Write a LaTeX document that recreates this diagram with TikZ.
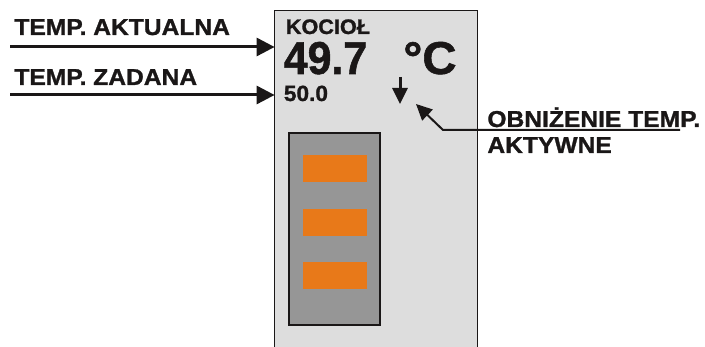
\documentclass[tikz,border=0pt]{standalone}
\usepackage{fontspec}
\setmainfont{Liberation Sans}
\newfontfamily\labfont[FakeStretch=1.07, FakeBold=1.2]{Liberation Sans Bold}
\newfontfamily\dispfont[FakeStretch=1.03, FakeBold=1.2]{Liberation Sans Bold}
\newfontfamily\numfont[FakeStretch=0.93, FakeBold=1.2]{Liberation Sans Bold}
\usetikzlibrary{arrows.meta}
\definecolor{panelgray}{RGB}{221,221,221}
\definecolor{screengray}{RGB}{150,150,150}
\definecolor{barorange}{RGB}{232,121,25}
\definecolor{ink}{RGB}{26,23,23}
\begin{document}
\begin{tikzpicture}[x=1pt, y=-1pt, thick,
    lab/.style = {anchor=base west, inner sep=0pt, text=ink, font=\labfont\fontsize{23}{23}\selectfont},
    panel/.style = {fill=panelgray, minimum width=202pt, minimum height=340pt, inner sep=0pt},
    screen/.style = {draw=ink, line width=2pt, fill=screengray, minimum width=91pt, minimum height=192pt, inner sep=0pt},
    bar/.style = {fill=barorange, minimum width=64pt, minimum height=27pt, inner sep=0pt},
    inarrow/.style = {draw=ink, line width=3pt, -{Triangle[length=18pt, width=18pt]}},
    thinarrow/.style = {draw=ink, line width=2pt, -{Triangle[length=16pt, width=15pt]}}]
    \useasboundingbox (0,0) rectangle (705,347);
    \node[panel] (panel) at (376,181) {};
    \draw[ink, line width=1.5pt] (panel.south west) -- (panel.north west) -- (panel.north east) -- (panel.south east);
    \node[screen] (screen) at (334.5,229) {};
    \foreach \i/\y in {1/168.5, 2/222.5, 3/275.5}
        \node[bar] (bar\i) at (335,\y) {};
    \node[lab] (akt) at (14,35) {TEMP. AKTUALNA};
    \node[lab] (zad) at (14,85) {TEMP. ZADANA};
    \node[lab, font=\dispfont\fontsize{21}{21}\selectfont] (kociol) at (285.5,34) {KOCIOŁ};
    \node[lab, font=\numfont\fontsize{46}{46}\selectfont] (actual) at (283.5,74) {49.7};
    \node[lab, font=\dispfont\fontsize{46}{46}\selectfont] (unit) at (403,74) {°C};
    \node[lab, font=\dispfont\fontsize{22}{22}\selectfont] (setval) at (283.5,101) {50.0};
    \node[lab] (obn) at (487,127) {OBNIŻENIE TEMP.};
    \node[lab] (akw) at (487,153) {AKTYWNE};
    \coordinate (aktin) at (10,47);
    \coordinate (zadin) at (10,95);
    \coordinate (dntop) at (400,77);
    \coordinate (dnbot) at (400,104);
    \coordinate (ulend) at (680,130);
    \coordinate (ulknee) at (443,130);
    \coordinate (ultip) at (416,104);
    \draw[inarrow] (aktin) to (aktin -| panel.west);
    \draw[inarrow] (zadin) to (zadin -| panel.west);
    \draw[thinarrow, line width=3pt] (dntop) to (dnbot);
    \draw[thinarrow] (ulend) -- (ulknee) -- (ultip);
\end{tikzpicture}
\end{document}
